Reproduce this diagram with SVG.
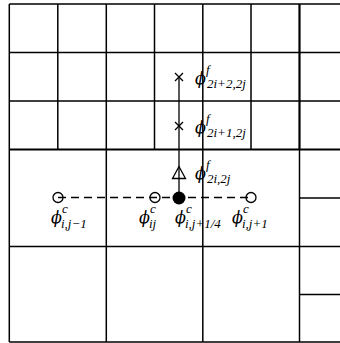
<svg xmlns="http://www.w3.org/2000/svg" width="340" height="343" viewBox="0 0 340 343">
<style>
.g{stroke:#000;stroke-width:1.5;fill:none}
.gt{stroke:#000;stroke-width:2.2;fill:none}
.c{stroke:#000;stroke-width:1.3;fill:none}
.m{font-family:"DejaVu Serif",serif;font-style:italic;font-size:16px;fill:#000}
.s{font-family:"Liberation Serif","DejaVu Serif",serif;font-style:italic;font-size:13px;fill:#000}
</style>
<rect width="340" height="343" fill="#fff"/>
<g id="grid">
<path class="g" d="M9.3 4V342M106.3 4V342M202.8 4V342M57.8 4V149.5M154.5 4V149.5M251 4V149.5"/>
<path class="gt" d="M299.5 4V149.5"/>
<path class="g" d="M299.5 149.5V342"/>
<path class="g" d="M9.3 4H340M9.3 52.5H340M9.3 101H340M9.3 246.5H340M9.3 342H340M299.5 198H340M299.5 294.5H340"/>
<path class="gt" d="M9.3 149.5H340"/>
</g>
<g id="connectors">
<path class="c" d="M179 77V198"/>
<path class="c" d="M58 197.5H251" stroke-dasharray="8 5" stroke-width="1.5"/>
</g>
<g id="f1"><path class="c" d="M175 73L183 81M183 73L175 81"/></g>
<g id="f2"><path class="c" d="M175 122L183 130M183 122L175 130"/></g>
<g id="f3"><path class="c" d="M179 166.5L172.5 178.5H185.5Z" fill="#fff"/></g>
<g id="cj"><circle cx="179" cy="198" r="6.5" fill="#000"/></g>
<g id="c1"><circle class="c" cx="58" cy="197.5" r="5"/></g>
<g id="c2"><circle class="c" cx="155" cy="197.5" r="5"/></g>
<g id="c3"><circle class="c" cx="251" cy="197.5" r="5"/></g>
<g id="labels">
<text class="m" x="195" y="84">ϕ</text><text class="s" x="206" y="74">f</text><text class="s" x="207" y="88">2i+2,2j</text>
<text class="m" x="195" y="133">ϕ</text><text class="s" x="206" y="123">f</text><text class="s" x="207" y="137">2i+1,2j</text>
<text class="m" x="195" y="179">ϕ</text><text class="s" x="206" y="169">f</text><text class="s" x="207" y="183">2i,2j</text>
<text class="m" x="51" y="223">ϕ</text><text class="s" x="62" y="213">c</text><text class="s" x="61" y="228">i,j−1</text>
<text class="m" x="139" y="223">ϕ</text><text class="s" x="150" y="213">c</text><text class="s" x="149" y="228">ij</text>
<text class="m" x="175" y="223">ϕ</text><text class="s" x="186" y="213">c</text><text class="s" x="185" y="228">i,j+1/4</text>
<text class="m" x="232" y="223">ϕ</text><text class="s" x="243" y="213">c</text><text class="s" x="242" y="228">i,j+1</text>
</g>
</svg>
